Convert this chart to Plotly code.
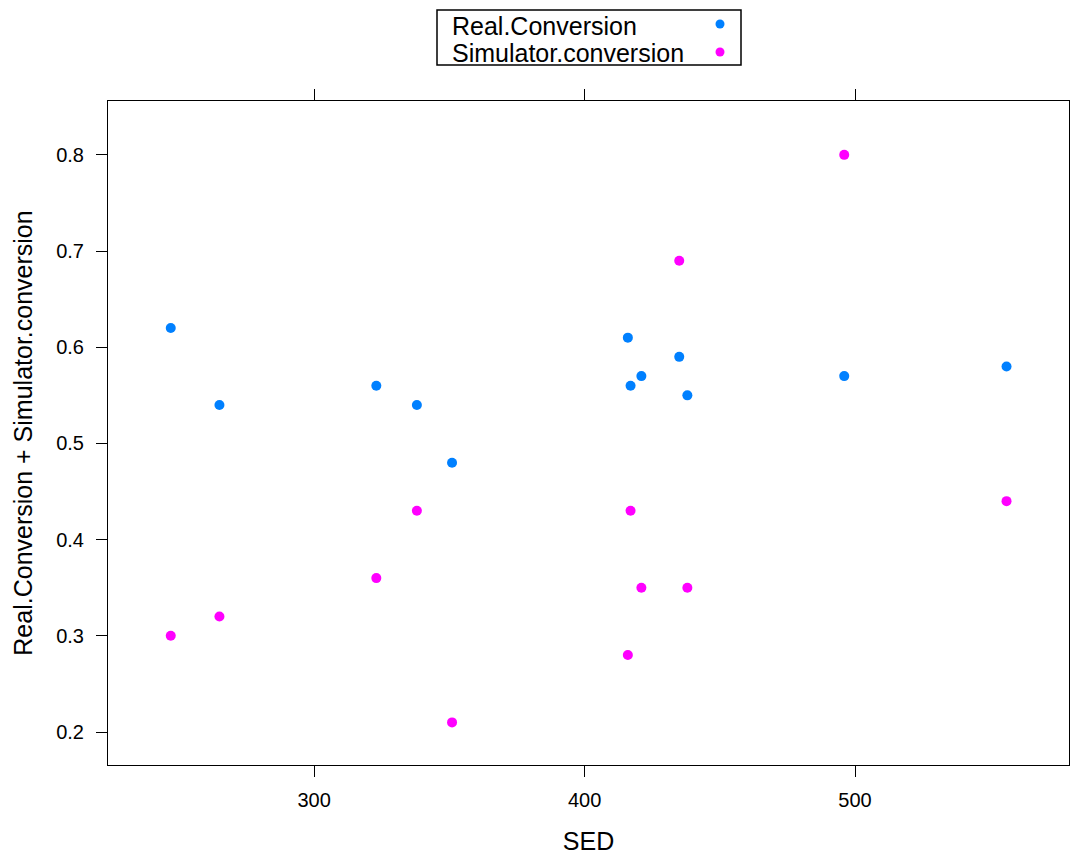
import plotly.graph_objects as go

sed = [247, 265, 323, 338, 351, 416, 417, 421, 435, 438, 496, 556]
real_conv = [0.62, 0.54, 0.56, 0.54, 0.48, 0.61, 0.56, 0.57, 0.59, 0.55, 0.57, 0.58]
sim_conv = [0.30, 0.32, 0.36, 0.43, 0.21, 0.28, 0.43, 0.35, 0.69, 0.35, 0.80, 0.44]
series_names = ["Real.Conversion", "Simulator.conversion"]
colors = ["#0080ff", "#ff00ff"]

fig = go.Figure()
for name, vals, col in zip(series_names, [real_conv, sim_conv], colors):
    fig.add_trace(go.Scatter(x=sed, y=vals, mode="markers", name=name,
                             marker=dict(color=col, size=10, line=dict(width=0)),
                             showlegend=False))

font = "Liberation Sans, Arial, Helvetica, sans-serif"
axis_common = dict(showline=True, linecolor="black", linewidth=1, mirror="ticks",
                   ticks="outside", ticklen=11, tickcolor="black", tickwidth=1,
                   showgrid=False, zeroline=False, automargin=False,
                   tickfont=dict(family=font, size=20, color="black"))

fig.update_layout(
    width=1070, height=855, autosize=False,
    margin=dict(l=108, r=1, t=101, b=90),
    paper_bgcolor="white", plot_bgcolor="white",
    xaxis=dict(range=[223.8, 579.1], tickvals=[300, 400, 500],
               ticklabelstandoff=6,
               title=dict(text="SED", font=dict(family=font, size=25, color="black"), standoff=24),
               **axis_common),
    yaxis=dict(range=[0.1657, 0.856], tickvals=[0.2, 0.3, 0.4, 0.5, 0.6, 0.7, 0.8],
               tickformat=".1f", ticklabelstandoff=8,
               title=dict(text="Real.Conversion + Simulator.conversion",
                          font=dict(family=font, size=25, color="black"), standoff=16),
               **axis_common),
)

# Legend drawn in lattice style (text left, symbol right)
W, H, L = 961, 664, 108
def px(x): return (x - L) / W
def py(y): return (765 - y) / H

fig.add_shape(type="rect", xref="paper", yref="paper",
              x0=px(437), x1=px(741), y0=py(65), y1=py(10),
              line=dict(color="black", width=1.5), fillcolor="white")
for i, (name, col) in enumerate(zip(series_names, colors)):
    ty = [26, 53][i]
    my = [24, 52][i]
    fig.add_annotation(xref="paper", yref="paper", x=px(450), y=py(ty),
                       text=name, showarrow=False, xanchor="left", yanchor="middle",
                       font=dict(family=font, size=25, color="black"))
    fig.add_shape(type="circle", xref="paper", yref="paper",
                  xsizemode="pixel", ysizemode="pixel",
                  xanchor=px(720), yanchor=py(my),
                  x0=-4.5, x1=4.5, y0=-4.5, y1=4.5,
                  fillcolor=col, line=dict(width=0))

fig.write_html("out.html", config={"responsive": False, "displayModeBar": False},
               post_script="document.body.style.margin='0';document.body.style.overflow='hidden';")
